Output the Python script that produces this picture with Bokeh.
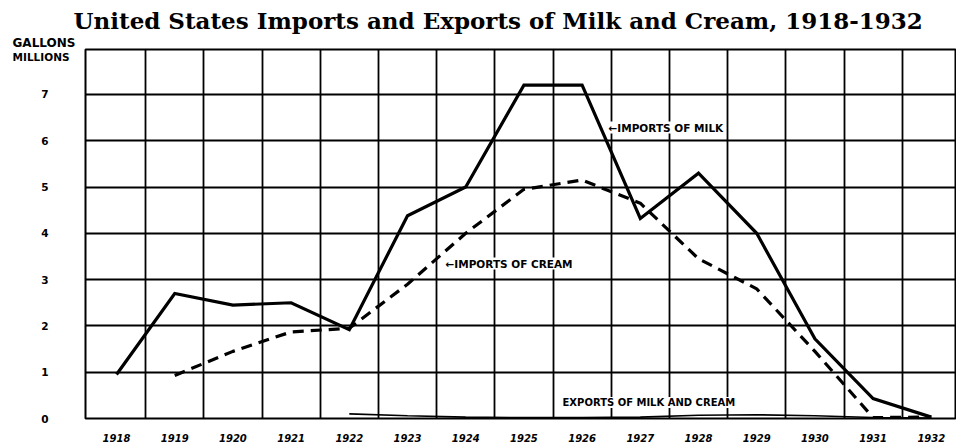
from bokeh.plotting import figure
from bokeh.models import Range1d, FixedTicker, Label, Title
from bokeh.embed import file_html
from bokeh.resources import INLINE

years = [1918, 1919, 1920, 1921, 1922, 1923, 1924, 1925, 1926, 1927, 1928, 1929, 1930, 1931, 1932]
milk_imports = [0.95, 2.7, 2.45, 2.5, 1.92, 4.38, 5.0, 7.2, 7.2, 4.32, 5.3, 4.0, 1.72, 0.43, 0.03]
cream_years = [1919, 1920, 1921, 1922, 1923, 1924, 1925, 1926, 1927, 1928, 1929, 1930, 1931, 1932]
cream_imports = [0.93, 1.45, 1.87, 1.95, 2.9, 4.0, 4.95, 5.15, 4.65, 3.45, 2.8, 1.45, 0.02, 0.03]
export_years = [1922, 1923, 1924, 1925, 1926, 1927, 1928, 1929, 1930, 1931, 1932]
exports = [0.1, 0.06, 0.03, 0.02, 0.02, 0.03, 0.07, 0.08, 0.06, 0.02, 0.01]
y_ticks = [0, 1, 2, 3, 4, 5, 6, 7]
y_labels = ["0", "1", "2", "3", "4", "5", "6", "7"]
year_labels = ["1918", "1919", "1920", "1921", "1922", "1923", "1924", "1925",
               "1926", "1927", "1928", "1929", "1930", "1931", "1932"]
unit_top = "GALLONS"
unit_bottom = "MILLIONS"
unit_bottom_pos = 7.80

title_text = "United States Imports and Exports of Milk and Cream, 1918-1932"

W, H = 956, 446
FL, FB = 85, 418  # frame left / bottom in canvas pixels
p = figure(width=W, height=H, output_backend="svg", toolbar_location=None,
           x_range=Range1d(1917.467, 1932.433), y_range=Range1d(0, 7.97),
           min_border_left=FL, min_border_right=0, min_border_top=49, min_border_bottom=H - FB)
p.title = Title(text=title_text, align="left", offset=-12, standoff=0,
                text_font="DejaVu Serif", text_font_size="23px", text_font_style="bold",
                text_color="black")
# unit caption, first line, just above the frame at the left
p.add_layout(Title(text=unit_top, align="left", offset=12 - FL, standoff=0,
                   text_font="DejaVu Sans", text_font_size="12px", text_font_style="bold",
                   text_line_height=0.75, text_color="black"), "above")
p.background_fill_color = "white"
p.border_fill_color = "white"
p.outline_line_color = "black"
p.outline_line_width = 2

# grid
p.xgrid.ticker = FixedTicker(ticks=[y + 0.5 for y in years[:-1]])
p.ygrid.ticker = FixedTicker(ticks=y_ticks[1:])
for g in (p.xgrid, p.ygrid):
    g.grid_line_color = "black"
    g.grid_line_width = 1.8
    g.grid_line_alpha = 1.0

# axes
p.xaxis.ticker = FixedTicker(ticks=years)
p.xaxis.major_label_overrides = {y: l for y, l in zip(years, year_labels)}
EM = "\u2003"
p.yaxis.ticker = FixedTicker(ticks=y_ticks + [unit_bottom_pos])
overrides = {t: l + EM + EM for t, l in zip(y_ticks, y_labels)}
overrides[unit_bottom_pos] = unit_bottom
p.yaxis.major_label_overrides = overrides
for ax in (p.xaxis, p.yaxis):
    ax.axis_line_color = None
    ax.major_tick_line_color = None
    ax.minor_tick_line_color = None
    ax.major_label_text_font = "DejaVu Sans"
    ax.major_label_text_font_style = "bold"
    ax.major_label_text_color = "black"
p.xaxis.major_label_text_font_size = "10px"
p.xaxis.major_label_text_font_style = "bold italic"
p.xaxis.major_label_standoff = 9
p.yaxis.major_label_text_font_size = "10.5px"
p.yaxis.major_label_standoff = 10

# series
p.line(years, milk_imports, line_color="black", line_width=3.2, line_join="miter")
p.line(cream_years, cream_imports, line_color="black", line_width=3.2, line_dash="11 7")
p.line(export_years, exports, line_color="black", line_width=1.6)

def px_x(px):
    return 1918 + (px - 116) / 58.2

def px_y(py):
    return (418 - py) / 46.3

# annotations inside the frame: data units
p.add_layout(Label(x=px_x(608), y=px_y(127), text="\u2190IMPORTS OF MILK", text_font="DejaVu Sans",
                   text_font_style="bold", text_font_size="10.5px", text_baseline="middle",
                   text_align="left", text_color="black", background_fill_color="white"))
p.add_layout(Label(x=px_x(445), y=px_y(263), text="\u2190IMPORTS OF CREAM", text_font="DejaVu Sans",
                   text_font_style="bold", text_font_size="10.5px", text_baseline="middle",
                   text_align="left", text_color="black", background_fill_color="white"))
p.add_layout(Label(x=px_x(562), y=px_y(402), text="EXPORTS OF MILK AND CREAM", text_font="DejaVu Sans",
                   text_font_style="bold", text_font_size="10px", text_baseline="middle",
                   text_align="left", text_color="black", background_fill_color="white"))

open("out.html", "w").write(file_html(p, INLINE))
